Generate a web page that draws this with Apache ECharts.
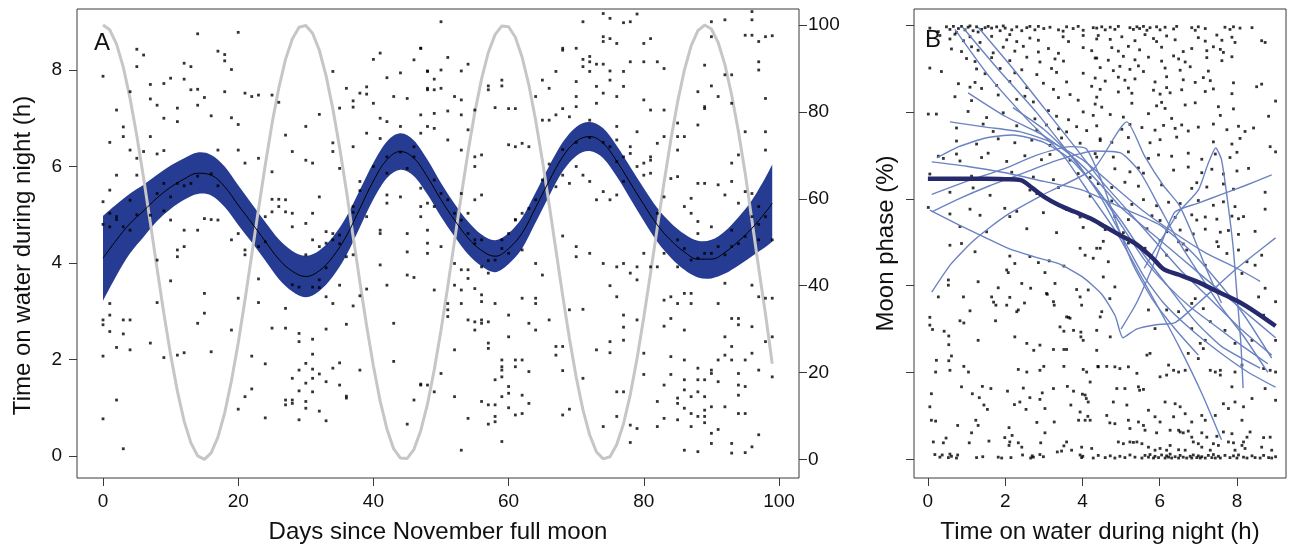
<!DOCTYPE html>
<html>
<head>
<meta charset="utf-8">
<script src="https://cdn.jsdelivr.net/npm/echarts@6/dist/echarts.min.js"></script>
<style>
  html, body { margin: 0; padding: 0; background: #fff; }
  #chart { width: 1290px; height: 549px; }
</style>
</head>
<body>
<div id="chart"></div>
<script>
// ---- Panel A: nightly time on water against days since the November full moon ----
const dayTicks = [0, 20, 40, 60, 80, 100];
const hourTicks = [0, 2, 4, 6, 8];
const phaseTicks = [0, 20, 40, 60, 80, 100];
const timeTicksB = [0, 2, 4, 6, 8];

// moon illumination (%) for days 0..99
const moonPhase = [100, 98.9, 95.6, 90.3, 83.1, 74.5, 64.8, 54.5, 43.9, 33.6,
  24.1, 15.7, 8.8, 3.8, 0.8, 0.0, 1.5, 5.1, 10.7, 18.1,
  26.8, 36.7, 47.1, 57.6, 67.8, 77.3, 85.5, 92.1, 96.8, 99.5,
  99.9, 98.1, 94.2, 88.3, 80.7, 71.8, 61.9, 51.3, 40.8, 30.7,
  21.5, 13.4, 7.0, 2.4, 0.3, 0.2, 2.3, 6.6, 12.7, 20.6,
  29.7, 39.8, 50.3, 60.8, 70.8, 79.9, 87.6, 93.7, 97.8, 99.8,
  99.6, 97.2, 92.6, 86.2, 78.1, 68.8, 58.7, 48.2, 37.7, 27.8,
  18.9, 11.4, 5.6, 1.7, 0.1, 0.6, 3.4, 8.2, 14.9, 23.2,
  32.7, 42.9, 53.4, 63.8, 73.6, 82.3, 89.6, 95.2, 98.7, 100.0,
  99.1, 96.0, 90.9, 83.9, 75.5, 65.9, 55.0, 44.0, 33.5, 22.0];

// fitted curve and its confidence band
const fitDays = [0, 2, 4, 6, 8, 10, 12, 14, 16, 18, 20, 22, 24, 26, 28, 30, 32, 34, 36, 38,
  40, 42, 44, 46, 48, 50, 52, 54, 56, 58, 60, 62, 64, 66, 68, 70, 72, 74, 76, 78,
  80, 82, 84, 86, 88, 90, 92, 94, 96, 98, 99];
const fitHours = [4.10, 4.48, 4.82, 5.08, 5.35, 5.57, 5.74, 5.86, 5.82, 5.58, 5.20, 4.83, 4.45, 4.08, 3.83, 3.72, 3.84, 4.13, 4.56, 5.13,
  5.70, 6.14, 6.31, 6.17, 5.78, 5.31, 4.89, 4.52, 4.26, 4.14, 4.30, 4.62, 5.15, 5.70, 6.20, 6.52, 6.62, 6.48, 6.11, 5.66,
  5.21, 4.79, 4.47, 4.23, 4.08, 4.08, 4.22, 4.45, 4.72, 5.05, 5.24];
const fitLower = [3.22, 3.74, 4.20, 4.54, 4.87, 5.12, 5.31, 5.43, 5.40, 5.16, 4.79, 4.43, 4.05, 3.67, 3.41, 3.29, 3.42, 3.72, 4.16, 4.74,
  5.32, 5.76, 5.93, 5.80, 5.42, 4.96, 4.55, 4.18, 3.93, 3.81, 3.98, 4.30, 4.84, 5.39, 5.90, 6.22, 6.32, 6.17, 5.79, 5.33,
  4.87, 4.44, 4.11, 3.86, 3.70, 3.68, 3.78, 3.95, 4.14, 4.33, 4.44];
const fitUpper = [4.98, 5.22, 5.44, 5.62, 5.83, 6.02, 6.17, 6.29, 6.24, 6.00, 5.61, 5.23, 4.85, 4.49, 4.25, 4.15, 4.26, 4.54, 4.96, 5.52,
  6.08, 6.52, 6.69, 6.54, 6.14, 5.66, 5.23, 4.86, 4.59, 4.47, 4.62, 4.94, 5.46, 6.01, 6.50, 6.82, 6.92, 6.79, 6.43, 5.99,
  5.55, 5.14, 4.83, 4.60, 4.46, 4.48, 4.66, 4.95, 5.30, 5.77, 6.04];

// individual nights: [day, hours on water]
const nightsA = [
  [0,7.87],[5,8.43],[6,8.31],[5,8.07],[14,8.75],[20,8.78],[17,8.39],[18,8.32],[18,8.19],[19,8.01],[12,8.14],[13,8.07],
  [4,7.55],[7,7.70],[9,7.72],[10,7.83],[12,7.81],[13,7.59],[14,7.6],[15,7.43],[18,7.55],[21,7.52],[22,7.45],[23,7.48],
  [25,7.48],[26,7.33],[7,7.40],[8,7.27],[11,7.21],[14,7.27],[16,7.05],[19,7.01],[20,6.87],[2,7.17],[1,6.50],[3,6.82],
  [3,6.62],[4,6.34],[5,6.17],[5,5.82],[6,6.31],[7,6.62],[8,6.26],[9,6.33],[9,7.0],[11,6.93],[17,6.34],[20,6.34],[21,6.07],
  [23,6.17],[25,5.89],[25,5.32],[26,5.32],[27,6.65],[27,5.06],[28,6.31],[28,4.75],[30,6.83],[30,6.13],[31,6.07],[32,7.08],
  [32,5.37],[31,5.03],[30,4.82],[34,7.97],[34,6.49],[35,7.21],[36,7.62],[37,7.36],[37,7.23],[38,7.52],[39,7.65],[39,7.5],
  [40,7.31],[40,8.22],[41,8.35],[42,7.84],[43,7.45],[44,7.94],[45,7.41],[46,8.21],[47,8.45],[47,7.07],[48,7.62],[48,7.97],
  [34,6.31],[35,5.96],[37,6.41],[38,5.69],[39,6.69],[41,6.58],[41,7.0],[42,6.93],[44,6.83],[46,6.41],[45,5.96],[42,5.86],
  [44,5.37],[47,5.55],[42,5.24],[41,4.61],[37,5.17],[39,4.96],[36,4.13],[37,4.17],[41,4.68],[42,5.41],[47,5.17],[48,4.68],
  [48,4.41],[45,4.23],[45,4.61],[41,3.96],[34,4.61],[33,4.65],[34,4.48],[35,4.58],[33,4.41],[32,4.34],[31,4.48],[30,4.17],
  [28,5.03],[27,5.31],[26,5.17],[25,5.06],[24,4.96],[24,4.44],[23,4.34],[21,4.27],[21,4.17],[20,4.61],[19,4.48],[17,4.89],
  [16,4.9],[15,4.92],[14,4.68],[12,4.34],[11,4.13],[11,4.27],[12,4.68],[8,4.06],[4,4.68],[3,4.75],[2,4.96],[1,5.03],
  [0,5.27],[1,5.51],[2,5.82],[4,5.3],[7,4.99],[8,5.44],[9,5.65],[10,5.37],[10,4.89],[9,5.08],
  [1,3.16],[1,2.92],[0,2.82],[0,2.72],[1,2.58],[3,2.82],[4,2.82],[3,2.53],[2,2.25],[4,2.2],[7,2.34],[0,2.07],[2,1.16],
  [0,0.77],[3,0.15],[8,3.18],[10,3.63],[9,2.04],[11,2.09],[12,2.14],[14,2.75],[15,2.96],[15,3.37],[16,2.16],[19,2.61],
  [20,3.27],[20,0.97],[21,1.23],[22,2.07],[22,1.39],[23,3.67],[23,3.18],[24,1.91],[24,0.79],[25,2.65],[27,2.65],[27,3.06],
  [27,1.16],[27,1.06],[28,1.16],[28,1.09],[28,1.61],[29,2.54],[29,2.37],[29,1.78],[29,1.35],[29,0.75],[30,1.51],[30,1.13],
  [30,0.99],[30,1.92],[31,2.42],[31,2.11],[31,1.8],[31,1.61],[31,1.33],[32,1.7],[32,0.93],[33,2.63],[33,1.54],[33,0.73],
  [34,1.82],[35,1.93],[35,1.47],[36,2.73],[36,1.24],[36,1.2],[38,1.78],[38,3.32],[37,3.11],[35,3.54],[33,3.3],[39,3.46],
  [42,3.54],[43,2.75],[43,1.96],[45,3.75],[46,3.7],[46,1.16],[45,0.66],[47,1.49],[34,3.16],[32,3.49],[32,3.65],
  [50,9.0],[47,8.45],[48,7.98],[49,7.81],[50,8.0],[51,8.26],[53,7.98],[54,8.12],[48,7.59],[49,7.59],[50,7.62],[52,7.45],
  [53,7.38],[51,7.15],[49,7.1],[53,7.07],[55,7.17],[54,6.76],[48,6.83],[49,6.79],[47,6.69],[51,6.55],[53,6.34],[55,6.2],
  [56,6.24],[55,6.0],[57,7.59],[57,7.67],[59,7.67],[59,7.79],[58,7.22],[60,7.2],[61,7.2],[60,6.45],[61,6.41],[62,6.48],
  [63,6.41],[64,7.45],[65,7.79],[66,7.62],[67,7.97],[68,8.45],[68,8.41],[70,8.45],[71,8.22],[71,9.0],[72,8.28],[72,8.17],
  [73,8.12],[74,9.17],[74,8.69],[74,8.59],[75,9.07],[75,8.65],[76,8.55],[77,8.98],[78,9.0],[79,9.16],[80,8.55],[81,8.65],
  [82,8.17],[83,8.03],[80,8.17],[78,8.17],[77,7.97],[75,7.98],[74,8.12],[72,7.97],[70,7.76],[71,8.07],[73,7.66],[75,7.79],
  [74,7.52],[76,7.45],[77,7.66],[70,7.45],[68,7.2],[66,6.96],[65,6.96],[67,7.07],[69,7.03],[70,7.24],[72,6.96],[73,7.31],
  [76,6.83],[76,6.55],[75,6.41],[78,6.27],[77,6.2],[79,6.72],[80,7.38],[81,7.17],[81,6.13],[81,5.86],[83,7.17],[85,6.9],
  [85,6.62],[86,6.62],[89,7.24],[88,6.86],[92,9.04],[90,9.0],[90,8.69],[96,9.21],[96,9.04],[95,8.72],[96,8.72],[97,8.59],
  [98,8.69],[99,8.71],[97,8.17],[97,8.0],[93,7.9],[92,7.9],[89,8.1],[88,7.55],[90,7.67],[91,7.45],[89,7.2],[93,7.31],
  [95,6.72],[98,7.41],[98,6.72],[98,6.34],[94,6.24],[93,6.07],[93,5.69],[92,5.41],[95,5.48],[96,5.44],[94,5.24],[91,5.62],
  [89,5.65],[88,5.65],[87,5.34],[86,5.17],[87,5.03],[88,4.86],[85,5.79],[85,6.34],[84,5.75],[83,5.37],[82,5.03],[83,6.62],
  [82,6.48],[81,6.2],[80,6.07],[80,5.82],[79,6.0],[78,6.41],[77,5.69],[76,5.41],[75,5.31],[74,5.48],[73,5.31],[72,5.69],
  [71,5.82],[70,6.0],[69,5.65],[68,5.82],[67,5.58],[65,5.72],[64,5.31],[63,5.13],[62,5.03],[61,4.89],[60,4.61],[59,4.48],
  [58,4.06],[57,3.79],[56,4.48],[55,4.48],[54,4.61],[53,4.89],[52,5.03],[51,5.31],[50,5.44],[49,5.72],[49,5.17],[48,5.24],
  [47,4.96],[53,5.44],[55,5.31],[56,5.41],[54,5.03],[48,4.2],[50,4.34],[52,3.99],[53,3.86],[54,3.86],[56,3.92],
  [60,4.2],[62,4.27],[64,3.99],[68,4.56],[70,4.34],[70,4.13],[72,4.2],[74,3.99],[76,3.92],[77,3.99],[79,3.92],[80,4.2],
  [83,4.2],[85,4.48],[88,4.61],[90,4.75],[91,4.34],[92,4.17],[93,4.68],[93,4.34],[95,4.55],[96,4.96],[97,5.17],[98,4.96],
  [97,4.48],[99,4.48],[87,4.06],[89,4.2],[85,3.92],[82,3.92],[78,3.79],[81,3.92],
  [49,3.44],[51,3.16],[51,3.03],[51,2.89],[52,3.54],[53,3.44],[53,3.16],[54,3.68],[54,2.82],[55,3.47],[55,2.61],[55,2.78],
  [56,3.34],[56,3.2],[56,2.82],[56,2.75],[57,2.78],[57,2.34],[57,2.23],[58,3.16],[60,2.92],[60,2.47],[59,1.99],[59,1.85],
  [59,1.78],[60,1.44],[59,1.64],[58,1.58],[58,0.82],[58,0.71],[57,0.66],[59,0.3],[56,1.13],[57,1.06],[58,1.06],[59,1.23],
  [60,1.0],[61,0.85],[62,0.88],[63,1.09],[62,1.26],[60,1.3],[61,1.99],[61,1.85],[62,1.99],[63,1.75],[62,3.27],[63,2.75],
  [64,2.61],[64,3.27],[64,3.16],[65,3.75],[66,2.82],[67,2.27],[67,2.09],[68,2.27],[68,1.77],[68,0.85],[69,0.97],[69,3.03],
  [71,3.04],[71,1.61],[73,2.2],[74,0.61],[75,3.53],[75,2.37],[75,2.14],[76,3.3],[76,1.33],[76,0.82],[77,2.92],[77,2.67],
  [77,2.4],[77,1.33],[78,0.64],[78,0.28],[79,3.65],[79,0.57],[80,2.13],[80,1.69],[82,1.13],[82,0.61],[83,3.23],[83,2.69],
  [83,0.78],[84,2.85],[84,2.06],[84,1.69],[84,3.3],[85,3.16],[85,1.2],[85,1.09],[85,0.75],[86,3.37],[86,2.61],[86,1.99],
  [86,1.58],[86,1.37],[86,0.99],[86,0.12],[87,3.37],[87,3.16],[87,1.23],[87,0.88],[87,0.61],[88,1.82],[88,1.58],[88,1.33],
  [88,0.82],[88,0.09],[89,1.58],[89,1.23],[89,0.95],[89,0.82],[89,0.69],[90,1.78],[90,1.71],[90,1.02],[90,0.47],[90,0.26],
  [91,3.16],[91,1.99],[91,1.54],[91,0.55],[92,2.47],[92,2.09],[92,1.02],[93,2.85],[93,2.27],[93,1.99],[93,0.26],[93,0.06],
  [94,2.85],[94,2.72],[94,1.71],[94,1.47],[94,1.26],[94,0.88],[95,1.99],[95,1.44],[95,0.88],[95,0.07],[96,2.68],[96,2.13],
  [96,0.19],[97,1.78],[97,0.44],[98,2.37],[98,3.27],[99,3.27],[99,2.47],[99,1.64],[97,3.3],[96,3.54],[92,3.58],[79,2.82],
  [83,1.47],[52,2.2],[52,1.23],[53,0.12],[54,0.78],[50,1.71],[49,1.33],[48,1.47],[47,1.47],
  [0,4.8],[1,4.75],[2,4.9],[5,5.0],[11,5.65],[12,5.6],[13,5.65],[14,5.8],[16,5.85],[17,5.6],[28,3.55],[29,3.5],[31,3.5],
  [33,3.9],[35,4.4],[37,5.05],[38,5.5],[40,6.0],[42,6.2],[44,6.3],[46,6.2],[55,4.4],[57,4.05],[59,4.3],[61,4.9],[66,6.05],
  [68,6.35],[70,6.5],[72,6.6],[74,6.5],[76,6.1],[86,4.3],[88,4.1],[90,4.2],[94,4.4],[97,4.8]
];

// ---- Panel B: moon phase against nightly time on water ----
// individual nights: [hours on water, moon phase %]
const nightsB = [
  [0.05,99.3],[0.27,98.5],[0.48,99.6],[0.66,99.7],[0.79,99.2],[0.87,99.7],[0.96,98.9],[1.04,99.5],[1.17,98.7],[1.26,99.6],
  [1.39,99.0],[1.56,99.7],[1.65,99.3],[1.78,99.6],[1.87,98.7],[2.0,99.3],[2.3,99.6],[2.43,98.7],[2.56,99.4],[2.64,99.7],
  [2.77,98.9],[3.16,99.5],[3.38,98.9],[3.59,99.6],[3.76,99.2],[3.89,99.7],[4.02,98.8],[4.28,99.4],[0.57,99.0],[0.74,98.3],
  [1.09,99.8],[1.3,98.4],[1.48,99.4],[1.95,99.8],[2.17,98.9],[2.86,99.7],[3.0,99.2],[3.5,98.6],
  [0.31,97.6],[0.57,96.8],[0.7,97.9],[0.92,96.4],[1.09,97.3],[1.35,96.0],[1.65,97.4],[2.04,96.6],[2.12,97.8],[2.3,96.2],
  [2.64,97.0],[2.86,96.5],[3.5,97.3],[3.64,96.2],[4.02,97.6],[4.37,96.8],
  [0.61,94.5],[0.87,93.9],[1.13,95.0],[1.3,94.2],[1.69,93.6],[1.95,94.9],[2.25,94.0],[2.47,95.1],[2.86,93.8],[3.12,94.6],
  [3.38,93.5],[4.02,94.8],[4.24,94.1],
  [1.0,92.3],[1.22,91.6],[1.65,92.5],[2.12,91.8],[2.56,92.6],[2.9,91.5],[3.29,92.2],[3.51,91.7],[4.33,92.4],
  [0.05,90.1],[0.35,89.3],[1.26,89.9],[1.48,88.8],[1.87,90.0],[2.25,89.0],[2.43,89.7],[2.82,88.6],[3.2,90.0],[3.33,89.1],[4.02,88.9],
  [0.79,86.5],[1.09,85.7],[1.22,86.8],[1.39,85.4],[1.78,86.1],[2.12,87.0],[2.56,85.6],[2.99,86.6],[3.25,85.2],[3.59,86.9],[4.24,85.9],
  [0.7,83.5],[1.13,82.6],[1.82,83.9],[2.3,82.9],[2.51,83.6],[2.73,82.3],[3.38,83.3],[3.68,84.0],[3.89,82.7],[4.37,83.4],
  [0.01,79.5],[0.22,79.5],[1.04,80.1],[1.52,78.7],[1.95,79.8],[2.77,78.4],[3.12,80.3],[3.33,79.0],[3.64,78.2],[4.02,80.0],[4.28,79.2],
  [0.74,76.3],[1.43,77.2],[1.69,75.5],[2.3,76.8],[2.82,75.8],[3.07,77.0],[3.38,76.1],[3.59,75.4],[3.85,76.6],[4.11,75.7],
  [0.74,73.3],[1.26,72.6],[1.82,73.8],[2.25,72.9],[2.69,73.5],[3.16,72.3],[3.46,74.0],[3.94,72.8],[4.46,73.4],
  [0.27,69.8],[0.4,69.3],[0.74,70.3],[0.83,68.7],[1.39,69.5],[1.56,70.5],[2.04,68.6],[2.51,69.9],[2.94,69.0],[3.16,70.2],[3.68,68.9],[4.37,69.6],
  [0.05,65.7],[1.13,65.2],[1.52,64.6],[2.17,66.1],[2.73,65.0],[3.25,64.4],[3.89,65.8],[4.2,64.9],
  [0.57,61.5],[1.17,62.5],[1.61,60.8],[2.64,62.0],[2.82,61.2],[3.38,62.6],[4.2,60.6],
  [0.01,58.0],[0.57,56.5],[1.09,57.6],[1.35,56.2],[1.99,57.8],[2.12,55.9],[2.3,57.1],[2.99,56.8],[3.59,57.5],[3.94,55.8],
  [0.83,53.6],[1.52,52.4],[2.56,53.1],[3.33,52.2],[4.02,53.4],
  [4.37,99.3],[4.5,99.6],[4.59,98.9],[4.72,99.5],[4.84,99.0],[4.93,99.7],[5.23,99.4],[5.32,99.0],[5.41,99.6],[5.48,99.2],
  [5.58,99.7],[5.67,98.8],[5.75,99.4],[5.92,99.6],[6.01,98.9],[6.14,99.5],[6.36,99.1],[6.44,99.7],[6.83,99.4],[6.92,98.8],
  [7.0,99.6],[7.18,99.2],[7.69,99.5],[7.82,99.0],[7.91,99.6],[8.08,99.3],[8.39,99.4],
  [4.41,97.6],[4.72,96.7],[5.02,97.3],[5.36,96.4],[5.62,97.8],[5.84,96.9],[5.92,96.2],[6.18,97.5],[6.4,96.6],[7.0,97.1],
  [7.18,96.3],[7.48,97.7],[7.61,96.5],[7.87,97.2],[7.95,96.0],[8.64,96.4],[8.73,96.0],
  [4.76,94.8],[4.93,94.0],[5.19,95.1],[5.48,94.3],[6.05,94.9],[6.61,93.9],[6.83,94.6],[7.22,94.1],[7.39,95.0],[7.57,94.4],[7.65,93.7],
  [4.37,92.4],[4.67,91.9],[5.06,92.8],[5.36,92.0],[5.71,92.6],[6.05,91.7],[6.36,92.9],[6.49,92.2],[6.66,91.5],[7.22,92.5],[7.61,91.8],[7.87,92.7],
  [4.46,90.2],[4.8,89.5],[4.97,90.5],[5.23,89.8],[5.45,90.6],[5.58,89.3],[6.14,90.1],[6.53,89.6],[6.79,90.4],[7.26,89.4],
  [4.33,87.8],[4.59,87.1],[4.93,88.0],[5.1,87.3],[5.36,87.6],[5.88,86.9],[6.18,88.1],[6.61,87.4],[6.92,86.8],[7.13,87.9],
  [7.31,87.2],[7.91,86.7],[8.51,85.8],[8.64,86.4],
  [4.46,85.2],[4.93,84.6],[5.19,85.5],[5.28,84.3],[5.84,85.0],[6.01,84.1],[6.18,85.6],[6.27,84.4],[6.57,85.1],[7.18,84.7],[7.39,85.3],[7.87,84.2],
  [4.33,81.8],[4.5,81.1],[5.28,82.0],[5.92,81.4],[6.05,82.2],[6.14,80.8],[6.66,81.6],[6.92,82.1],[7.52,81.2],[7.91,80.7],
  [4.72,79.4],[5.06,78.8],[5.71,79.6],[6.31,78.5],[7.57,79.2],[8.82,79.0],[9.0,82.5],
  [4.37,76.8],[5.02,76.0],[5.23,77.1],[5.54,76.4],[5.88,75.8],[6.1,76.9],[6.4,76.2],[6.57,77.0],[6.74,75.6],[7.0,76.5],
  [7.39,77.2],[7.74,75.9],[8.04,76.7],[8.21,75.5],[8.43,76.3],
  [4.46,73.8],[4.76,73.0],[5.19,74.1],[5.75,72.9],[6.01,73.6],[6.44,74.2],[7.39,73.1],[7.87,72.6],[8.08,73.9],[8.86,72.0],[9.0,70.8],
  [4.33,70.4],[4.8,69.6],[5.19,70.8],[5.71,69.3],[5.97,70.1],[6.31,69.8],[6.74,70.5],[7.09,69.1],[7.44,70.3],[7.82,69.5],[8.0,70.7],
  [4.84,66.9],[5.23,66.2],[5.45,67.1],[5.58,65.9],[6.36,66.6],[6.74,67.3],[7.09,66.0],[7.35,66.8],[7.65,65.7],[8.0,66.4],[8.3,67.0],
  [4.41,63.5],[4.76,62.6],[5.1,63.8],[5.45,62.9],[6.05,63.2],[6.83,62.4],[6.96,63.7],[7.22,62.7],[7.65,63.4],[7.91,62.2],[8.73,61.5],
  [4.76,59.5],[5.28,58.7],[5.58,59.8],[5.92,58.4],[6.23,59.2],[6.53,58.9],[7.0,59.6],[7.39,58.5],[7.65,59.3],[7.95,58.2],[8.73,57.6],
  [4.84,55.9],[5.19,55.2],[5.8,56.1],[6.01,55.0],[6.4,55.7],[6.83,56.3],[6.96,55.1],[7.18,55.8],[7.48,55.3],[7.87,56.0],[8.04,55.4],[8.17,55.9],
  [4.59,52.9],[5.06,52.2],[5.67,53.1],[6.18,52.4],[6.53,52.8],[6.87,51.9],[7.18,53.0],[7.57,52.3],[7.78,52.7],[8.04,51.8],[8.47,52.5],
  [4.54,50.2],[5.19,49.8],[6.01,50.4],[6.61,49.6],[7.48,50.1],
  [0.57,49.3],[0.87,49.7],[1.22,47.8],[2.12,46.8],[2.25,45.1],[2.04,43.6],[2.08,43.0],[2.64,46.7],[2.86,45.3],[3.03,43.0],
  [3.14,45.7],[3.29,40.5],[3.07,38.2],[3.52,44.5],[3.94,48.6],[4.07,47.0],[4.28,46.3],[4.37,48.6],
  [0.53,41.3],[0.53,40.1],[0.27,37.4],[0.92,37.4],[1.3,40.9],[1.65,37.4],[1.7,36.2],[1.76,35.5],[1.82,39.5],[2.04,35.5],
  [2.12,37.3],[2.3,34.0],[2.34,34.4],[2.5,36.0],[2.43,40.5],[2.66,39.4],[3.09,38.0],[3.25,36.3],[3.27,35.5],[3.64,32.7],
  [3.68,32.5],[3.85,39.1],[3.94,37.4],[3.98,35.5],[4.15,39.0],
  [1.09,34.2],[0.05,32.7],[0.05,30.9],[0.12,29.9],[0.42,29.5],[0.54,28.4],[0.54,26.4],[0.83,31.9],[0.93,31.4],[1.3,27.4],
  [1.75,31.9],[2.25,28.2],[2.56,26.7],[2.74,25.1],[2.9,26.3],[3.25,25.3],[3.42,30.5],[3.52,29.5],[3.59,32.8],[3.77,29.7],
  [3.96,29.3],[3.96,28.2],[4.02,27.4],[3.59,25.3],[3.52,25.3],
  [0.22,22.8],[0.2,20.1],[0.54,22.7],[0.57,20.5],[0.61,23.8],[0.93,21.4],[1.05,20.1],[2.34,20.7],[2.56,20.1],[2.9,20.5],
  [3.0,21.4],[3.52,21.4],[4.02,20.7],[4.11,20.1],[4.2,17.8],[4.4,21.4],
  [0.09,15.1],[0.05,12.1],[0.87,16.7],[1.15,15.1],[1.33,14.2],[1.41,16.8],[1.63,16.3],[1.45,12.5],[1.54,11.5],[2.06,15.7],
  [2.24,12.6],[2.38,13.2],[2.47,16.4],[2.54,11.5],[2.64,14.2],[2.9,13.8],[2.96,15.3],[3.03,11.7],[3.25,16.3],[3.61,16.8],
  [3.77,15.7],[3.7,12.5],[4.0,15.0],[4.07,14.8],[4.1,14.0],[4.15,13.2],[3.94,10.9],
  [0.09,9.0],[0.2,8.8],[0.77,7.8],[1.13,6.1],[1.24,9.0],[1.3,7.8],[2.1,7.3],[2.82,8.5],[3.27,8.6],[3.03,6.1],[3.9,9.0],
  [4.07,9.0],[4.2,9.0],[4.14,9.9],
  [0.14,4.0],[0.4,3.8],[0.47,4.9],[1.07,3.8],[1.58,4.2],[1.99,5.0],[2.12,4.0],[2.1,3.2],[2.18,5.5],[2.34,3.8],[2.43,2.8],
  [2.92,3.8],[3.52,3.1],[3.59,4.0],[3.72,2.1],[3.46,1.9],[3.35,1.7],[3.98,2.8],[4.24,2.5],
  [0.18,1.1],[0.31,0.5],[0.37,1.0],[0.53,0.4],[0.57,1.2],[0.61,0.7],[0.74,0.3],[0.77,1.0],[1.26,0.4],[1.42,0.6],[1.82,0.5],
  [1.91,0.3],[2.15,0.4],[2.45,1.0],[2.66,0.3],[2.7,0.8],[2.73,0.5],[2.9,1.1],[2.99,0.6],[3.94,1.0],[3.98,0.4],[4.01,0.7],[4.28,0.3],
  [4.46,48.6],[4.67,45.5],[4.54,42.0],[4.46,32.8],[4.37,29.7],[4.72,28.2],[4.37,25.1],[4.41,21.3],[4.63,21.4],[4.84,21.3],
  [4.97,20.9],[5.1,16.3],[5.19,21.3],[5.41,19.8],[5.48,15.9],[5.58,16.1],[5.67,24.0],[5.75,24.4],[6.01,19.0],[6.18,19.4],
  [6.23,21.7],[6.36,20.5],[6.49,20.1],[6.66,20.5],[6.74,24.4],[7.0,23.2],[7.05,26.7],[7.13,25.5],[7.31,20.5],[7.44,20.1],
  [7.57,20.5],[7.57,19.4],[7.87,16.7],[7.95,20.1],[8.13,21.7],[8.69,20.9],[8.86,20.5],[9.0,20.1],[8.73,16.3],
  [5.62,48.6],[6.18,47.0],[7.18,44.7],[6.92,37.0],[6.83,35.9],[7.13,34.7],[6.18,34.4],[6.49,34.0],[5.71,34.4],[5.88,30.1],
  [6.83,30.1],[7.18,27.4],[7.31,31.7],[7.69,29.7],[7.95,26.7],[8.39,27.4],[8.69,33.2],[9.0,36.3],[9.0,27.4],[8.56,37.4],
  [8.13,42.8],[8.73,39.4],[8.47,44.7],[8.26,45.5],[8.64,47.0],[8.04,48.2],[7.74,47.4],[7.52,49.0],[6.7,48.2],[6.49,50.1],
  [4.84,39.7],[4.71,37.0],[4.5,34.0],
  [4.8,13.2],[4.89,16.3],[5.15,12.5],[5.45,16.7],[5.71,11.3],[5.88,9.8],[6.01,8.6],[6.14,13.2],[6.4,12.8],[6.53,12.1],
  [6.66,10.5],[6.36,9.8],[6.83,8.6],[7.09,10.1],[7.18,9.0],[7.44,10.1],[7.65,12.8],[7.78,11.7],[7.95,13.2],[8.17,12.1],
  [8.39,14.0],[9.0,13.6],
  [4.63,10.1],[4.71,8.4],[4.84,8.2],[5.19,9.0],[5.23,7.1],[5.45,8.6],[5.58,7.8],[5.62,6.7],[5.92,6.1],[6.27,6.7],[6.49,6.7],
  [6.53,6.3],[6.61,6.1],[6.74,6.5],[6.83,5.1],[7.09,6.1],[7.22,5.1],[7.48,5.3],[7.65,6.3],[7.87,5.9],[8.13,9.0],[8.34,6.3],
  [8.26,5.1],[8.69,5.0],[8.86,5.1],
  [4.93,4.0],[5.06,3.6],[5.23,4.0],[5.32,3.9],[5.41,4.0],[5.54,3.6],[5.71,2.8],[5.88,2.1],[6.01,2.5],[6.18,2.1],[6.27,3.2],
  [6.49,2.2],[6.66,2.1],[6.87,4.0],[7.0,3.6],[7.09,2.8],[7.31,2.1],[7.39,3.6],[7.52,3.2],[7.78,4.0],[7.91,3.8],[7.95,2.1],
  [8.13,3.2],[8.17,4.0],[8.21,2.5],[8.64,2.8],[8.9,2.1],
  [4.41,0.9],[4.59,0.4],[4.72,0.8],[4.84,0.3],[4.97,0.7],[5.1,0.4],[5.23,1.0],[5.36,0.5],[5.54,0.3],[5.62,0.9],[5.71,0.5],
  [5.75,1.1],[5.84,0.3],[5.88,0.7],[5.97,0.4],[6.05,1.0],[6.14,0.3],[6.18,0.8],[6.23,0.5],[6.27,1.2],[6.31,0.3],[6.4,0.6],
  [6.49,0.3],[6.53,0.9],[6.61,0.5],[6.7,0.3],[6.79,0.7],[6.83,0.3],[6.87,1.0],[6.96,0.4],[7.0,0.8],[7.05,0.3],[7.09,0.6],
  [7.18,0.3],[7.26,0.9],[7.35,0.4],[7.39,1.1],[7.44,0.3],[7.52,0.7],[7.57,0.3],[7.69,0.9],[7.82,0.4],[7.91,0.8],[8.0,0.3],
  [8.04,1.0],[8.17,0.5],[8.26,0.3],[8.39,0.8],[8.47,0.4],[8.6,0.3],[8.69,0.9],[8.82,0.4],[8.9,0.3],[9.0,0.6]
];

// individual bird tracks: [hours on water, moon phase %]
const birdTracks = [
  [[0.7,99],[1.6,88],[2.6,78],[3.5,70],[4.2,61],[4.9,52],[5.4,44],[5.9,36],[6.5,26],[7.1,15],[7.6,4.5]],
  [[0.9,99.5],[1.8,90],[2.8,80],[3.6,71],[4.3,63],[5.0,55],[5.6,47],[6.2,40],[6.9,32],[7.6,26],[8.6,21]],
  [[1.3,99.5],[2.2,90],[3.0,81],[3.8,72],[4.5,64],[5.2,57],[5.9,50],[6.6,43],[7.3,37],[8.1,30],[8.9,24]],
  [[1.04,84.4],[2.0,79],[3.0,74.5],[3.7,70],[4.4,64],[5.0,58],[5.8,52],[6.6,46],[7.4,40],[8.2,34],[9.0,28]],
  [[2.2,81],[3.0,76],[3.8,69],[4.5,60],[5.1,50],[5.6,42],[6.1,36],[6.8,30],[7.5,25],[8.3,20],[9.0,16.6]],
  [[0.57,77.7],[1.5,76.5],[2.4,75.4],[3.2,73],[4.0,69],[4.8,63],[5.6,57],[6.4,52],[7.2,47.5],[8.0,44],[8.6,41]],
  [[0.23,69.4],[0.8,72],[1.5,74],[2.2,74.7],[3.0,73],[3.7,69],[4.4,62],[5.0,54],[5.6,46],[6.2,40],[6.8,35],[7.4,31],[8.0,27],[8.8,22]],
  [[0.1,68.5],[1.0,67.5],[2.0,66],[3.0,64],[4.0,62],[5.0,58],[6.0,54],[6.8,48],[7.5,41],[8.2,33],[8.9,23.3]],
  [[0.1,61],[1.0,64],[2.0,67],[2.8,70],[3.7,72],[4.1,71.5],[4.5,64],[4.9,54],[5.3,45],[5.8,37],[6.4,30],[7.0,24]],
  [[0.1,38.5],[0.6,45],[1.2,50.5],[2.0,56],[3.0,61],[4.3,67],[5.15,77.7],[5.6,70],[6.1,63],[6.5,58.6],[6.84,52],[7.2,44],[7.6,36]],
  [[0.1,57],[0.8,60],[1.6,63],[2.5,66],[3.4,69],[4.3,71],[5.0,70.5],[5.5,66],[6.0,58],[6.5,50],[7.0,43],[7.6,35],[8.2,28],[8.8,20]],
  [[0.05,57.4],[0.8,54],[1.5,51],[2.1,48.5],[2.8,46.5],[3.4,45],[4.0,42],[4.5,38],[4.85,33],[5.05,28],[5.4,30],[5.9,31],[6.4,31.5],[7.0,36],[7.5,40],[8.0,44],[8.5,47.5],[9.0,51]],
  [[5.0,30],[5.4,36],[5.8,44],[6.1,51],[6.4,57],[7.0,59],[7.6,61],[8.2,63],[8.9,65.5]],
  [[5.6,44],[6.0,50],[6.5,57],[7.0,62],[7.25,68],[7.45,71.7],[7.6,69],[7.75,60],[7.9,49],[8.0,38],[8.1,27],[8.16,16.4]]
];

// population mean track
const meanTrack = [[0,64.6],[0.5,64.6],[1,64.6],[1.5,64.6],[2,64.5],[2.4,64.3],[2.7,62.5],[3,60.5],[3.4,58.5],[3.8,57],
  [4.2,55.5],[4.6,53.5],[5,51.5],[5.4,49.5],[5.8,46.5],[6.1,43.8],[6.5,42.5],[7,40.8],[7.5,38.6],[8,36.5],[8.5,33.8],[9,30.7]];

// ---- chart ----
const FONT = '"Liberation Sans", Arial, sans-serif';
const INK = '#111';
const FRAME = '#3a3a3a';
const BAND = '#263c92';
const TRACK = '#6b83c2';
const MEAN = '#262a6c';

function ticks(values) {
  return {
    show: true, inside: false, length: 8,
    customValues: values,
    lineStyle: { color: FRAME, width: 1 }
  };
}
function labels(values, extra) {
  return Object.assign({
    show: true, customValues: values,
    color: INK, fontFamily: FONT, fontSize: 19
  }, extra || {});
}
const nameStyle = { color: INK, fontFamily: FONT, fontSize: 24 };
const hiddenLine = { show: false, onZero: false };

// Catmull-Rom curve through pixel points, as cubic bezier path commands
function curveCommands(pts) {
  let d = '';
  for (let i = 0; i < pts.length - 1; i++) {
    const p0 = pts[Math.max(0, i - 1)], p1 = pts[i], p2 = pts[i + 1], p3 = pts[Math.min(pts.length - 1, i + 2)];
    const c1x = p1[0] + (p2[0] - p0[0]) / 6, c1y = p1[1] + (p2[1] - p0[1]) / 6;
    const c2x = p2[0] - (p3[0] - p1[0]) / 6, c2y = p2[1] - (p3[1] - p1[1]) / 6;
    d += ' C' + c1x.toFixed(2) + ' ' + c1y.toFixed(2) + ' ' + c2x.toFixed(2) + ' ' + c2y.toFixed(2) + ' ' + p2[0].toFixed(2) + ' ' + p2[1].toFixed(2);
  }
  return d;
}

// confidence band drawn as one closed shape between the lower and upper curves
function renderBand(params, api) {
  const up = fitDays.map((d, i) => api.coord([d, fitUpper[i]]));
  const lo = fitDays.map((d, i) => api.coord([d, fitLower[i]])).reverse();
  const path = 'M' + up[0][0].toFixed(2) + ' ' + up[0][1].toFixed(2) + curveCommands(up) +
    ' L' + lo[0][0].toFixed(2) + ' ' + lo[0][1].toFixed(2) + curveCommands(lo) + ' Z';
  return {
    type: 'path',
    shape: { pathData: path },
    style: { fill: BAND, stroke: null }
  };
}

const chart = echarts.init(document.getElementById('chart'), null, { renderer: 'canvas' });

const series = [
  {
    name: 'band', type: 'custom', xAxisIndex: 0, yAxisIndex: 0, z: 1, silent: true,
    data: [[fitDays[0], fitHours[0]]], renderItem: renderBand, clip: true
  },
  {
    name: 'moon phase', type: 'line', xAxisIndex: 0, yAxisIndex: 1, z: 3, silent: true,
    data: moonPhase.map((v, d) => [d, v]), symbol: 'none',
    lineStyle: { color: '#c6c6c6', width: 3 }
  },
  {
    name: 'nights A', type: 'scatter', xAxisIndex: 0, yAxisIndex: 0, z: 4, silent: true,
    data: nightsA, symbol: 'rect', symbolSize: 2.8, itemStyle: { color: '#000' }
  },
  {
    name: 'fit', type: 'line', xAxisIndex: 0, yAxisIndex: 0, z: 5, silent: true,
    data: fitDays.map((d, i) => [d, fitHours[i]]), smooth: 0.4, symbol: 'none',
    lineStyle: { color: '#000', width: 1 }
  },
  {
    name: 'nights B', type: 'scatter', xAxisIndex: 1, yAxisIndex: 2, z: 3, silent: true,
    data: nightsB, symbol: 'rect', symbolSize: 2.8, itemStyle: { color: '#000' }
  }
];
birdTracks.forEach((track, k) => {
  series.push({
    name: 'track ' + (k + 1), type: 'line', xAxisIndex: 1, yAxisIndex: 2, z: 4, silent: true,
    data: track, smooth: 0.2, symbol: 'none',
    lineStyle: { color: TRACK, width: 1.4 }
  });
});
series.push({
  name: 'mean track', type: 'line', xAxisIndex: 1, yAxisIndex: 2, z: 5, silent: true,
  data: meanTrack, smooth: 0.3, symbol: 'none',
  lineStyle: { color: MEAN, width: 4.5 }
});

chart.setOption({
  animation: false,
  backgroundColor: '#ffffff',
  grid: [
    { left: 77, top: 9, width: 722, height: 469, show: true, borderColor: FRAME, borderWidth: 1, backgroundColor: 'transparent' },
    { left: 914, top: 9, width: 372, height: 469, show: true, borderColor: FRAME, borderWidth: 1, backgroundColor: 'transparent' }
  ],
  xAxis: [
    {
      gridIndex: 0, type: 'value', min: -3.85, max: 102.96, position: 'bottom',
      axisLine: hiddenLine, splitLine: { show: false },
      axisTick: ticks(dayTicks), axisLabel: labels(dayTicks, { margin: 14 }),
      name: 'Days since November full moon', nameLocation: 'middle', nameGap: 42, nameTextStyle: nameStyle
    },
    {
      gridIndex: 1, type: 'value', min: -0.36, max: 9.27, position: 'bottom',
      axisLine: hiddenLine, splitLine: { show: false },
      axisTick: ticks(timeTicksB), axisLabel: labels(timeTicksB, { margin: 14 }),
      name: 'Time on water during night (h)', nameLocation: 'middle', nameGap: 42, nameTextStyle: nameStyle
    }
  ],
  yAxis: [
    {
      gridIndex: 0, type: 'value', min: -0.456, max: 9.264, position: 'left',
      axisLine: hiddenLine, splitLine: { show: false },
      axisTick: ticks(hourTicks), axisLabel: labels(hourTicks, { margin: 15 }),
      name: 'Time on water during night (h)', nameLocation: 'middle', nameGap: 42,
      nameTextStyle: Object.assign({ padding: [0, 24, 0, 0] }, nameStyle)
    },
    {
      gridIndex: 0, type: 'value', min: -4.3, max: 103.7, position: 'right',
      axisLine: hiddenLine, splitLine: { show: false },
      axisTick: ticks(phaseTicks), axisLabel: labels(phaseTicks, { margin: 9 })
    },
    {
      gridIndex: 1, type: 'value', min: -4.3, max: 103.7, position: 'left',
      axisLine: hiddenLine, splitLine: { show: false },
      axisTick: ticks(phaseTicks), axisLabel: { show: false },
      name: 'Moon phase (%)', nameLocation: 'middle', nameGap: 16, nameTextStyle: nameStyle
    }
  ],
  graphic: [
    { type: 'text', left: 94, top: 31, z: 10, style: { text: 'A', fill: INK, font: '24px ' + FONT } },
    { type: 'text', left: 925, top: 28, z: 10, style: { text: 'B', fill: INK, font: '24px ' + FONT } }
  ],
  series: series
});
</script>
</body>
</html>
